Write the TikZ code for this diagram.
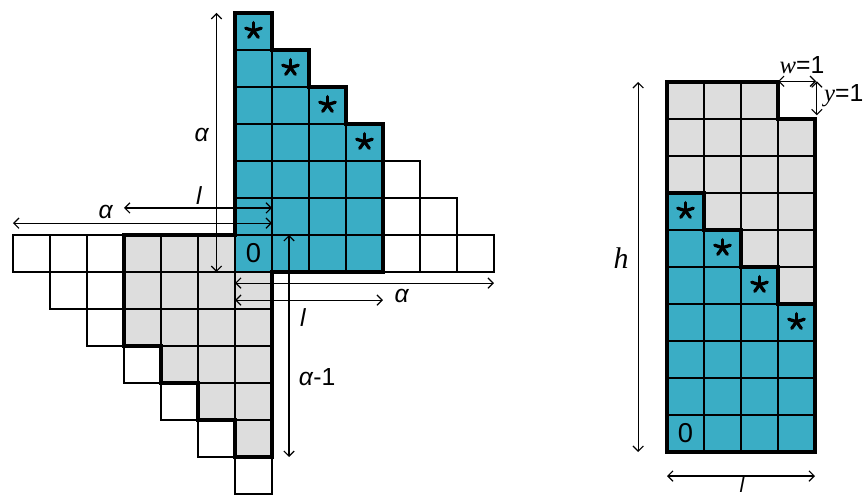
\documentclass[tikz,border=0pt]{standalone}
\usepackage{fontspec}
\setmainfont{Liberation Sans}
\newfontfamily\tnr{Liberation Serif}
\usetikzlibrary{arrows.meta}
\definecolor{cellblue}{RGB}{58,173,197}
\definecolor{cellgray}{RGB}{221,221,221}
\tikzset{
  gridline/.style={line width=1.4pt, draw=black},
  outline/.style={line width=3.8pt, line join=miter, draw=black},
  dimline/.style={line width=0.9pt, {Straight Barb[length=4pt,width=8pt,line width=0.9pt]}-{Straight Barb[length=4pt,width=8pt,line width=0.9pt]}},
  lab/.style={font=\fontsize{19}{21}\selectfont, inner sep=0pt},
  astk/.pic={\foreach \a in {18,90,162,234,306} \draw[line width=2.5pt, line cap=round] (0,0) -- (\a:0.22);}
}
\begin{document}
\begin{tikzpicture}
\useasboundingbox (-6.351,-6.081) rectangle (17.108,7.351);
% ---------------- left figure ----------------
\fill[cellblue] (0,0) -- (4,0) -- (4,4) -- (3,4) -- (3,5) -- (2,5) -- (2,6) -- (1,6) -- (1,7) -- (0,7) -- cycle;
\fill[cellgray] (-3,1) -- (0,1) -- (0,0) -- (1,0) -- (1,-5) -- (0,-5) -- (0,-4) -- (-1,-4) -- (-1,-3) -- (-2,-3) -- (-2,-2) -- (-3,-2) -- cycle;
\foreach \i in {0,...,6} {
  \pgfmathtruncatemacro\tp{6-\i}
  \foreach \j in {0,...,\tp} \draw[gridline] (\i,\j) rectangle ++(1,1);
}
\foreach \i in {-6,...,-1} {
  \pgfmathtruncatemacro\bt{-6-\i}
  \foreach \j in {\bt,...,0} \draw[gridline] (\i,\j) rectangle ++(1,1);
}
\foreach \j in {-6,...,-1} \draw[gridline] (0,\j) rectangle ++(1,1);
\draw[outline] (1,0) -- (4,0) -- (4,4) -- (3,4) -- (3,5) -- (2,5) -- (2,6) -- (1,6) -- (1,7) -- (0,7) -- (0,1) -- (-3,1) -- (-3,-2) -- (-2,-2) -- (-2,-3) -- (-1,-3) -- (-1,-4) -- (0,-4) -- (0,-5) -- (1,-5) -- cycle;
\foreach \i/\j in {0/6,1/5,2/4,3/3} \pic at (\i+0.5,\j+0.52) {astk};
\node[lab, font=\fontsize{21}{23}\selectfont] (zeroL) at (0.5,0.5) {0};
% dimension lines
\coordinate (av1) at (-0.5,0); \coordinate (av2) at (-0.5,7);
\draw[dimline] (av1) -- (av2);
\node[lab] (aV) at (-0.89,3.70) {\textit{α}};
\coordinate (lu1) at (-3,1.73); \coordinate (lu2) at (1,1.73);
\draw[dimline] (lu1) -- (lu2);
\node[lab] (lU) at (-0.97,2.07) {\textit{l}};
\coordinate (au1) at (-6,1.32); \coordinate (au2) at (1,1.32);
\draw[dimline] (au1) -- (au2);
\node[lab] (aU) at (-3.49,1.62) {\textit{α}};
\coordinate (am1) at (1.46,1); \coordinate (am2) at (1.46,-5);
\draw[dimline] (am1) -- (am2);
\node[lab] (aM) at (2.22,-2.84) {\textit{α}-1};
\coordinate (ad1) at (0,-0.3); \coordinate (ad2) at (7,-0.3);
\draw[dimline] (ad1) -- (ad2);
\node[lab] (aD) at (4.51,-0.64) {\textit{α}};
\coordinate (ld1) at (0,-0.76); \coordinate (ld2) at (4,-0.76);
\draw[dimline] (ld1) -- (ld2);
\node[lab] (lD) at (1.84,-1.24) {\textit{l}};
% ---------------- right figure ----------------
\begin{scope}[shift={(11.676,-4.865)}]
\fill[cellgray] (0,0) rectangle (4,9);
\fill[cellgray] (0,9) rectangle (3,10);
\fill[cellblue] (0,0) -- (4,0) -- (4,4) -- (3,4) -- (3,5) -- (2,5) -- (2,6) -- (1,6) -- (1,7) -- (0,7) -- cycle;
\foreach \i in {0,...,3} \foreach \j in {0,...,8} \draw[gridline] (\i,\j) rectangle ++(1,1);
\foreach \i in {0,...,2} \draw[gridline] (\i,9) rectangle ++(1,1);
\draw[outline] (0,7) -- (1,7) -- (1,6) -- (2,6) -- (2,5) -- (3,5) -- (3,4) -- (4,4);
\draw[outline] (0,0) -- (4,0) -- (4,9) -- (3,9) -- (3,10) -- (0,10) -- cycle;
\foreach \i/\j in {0/6,1/5,2/4,3/3} \pic at (\i+0.5,\j+0.52) {astk};
\node[lab, font=\fontsize{21}{23}\selectfont] (zeroR) at (0.5,0.5) {0};
\coordinate (h1) at (-0.78,0); \coordinate (h2) at (-0.78,10);
\draw[dimline] (h1) -- (h2);
\node[lab, font=\fontsize{23}{25}\selectfont] (hL) at (-1.24,5.24) {\tnr\itshape h};
\coordinate (lb1) at (0,-0.65); \coordinate (lb2) at (4,-0.65);
\draw[dimline] (lb1) -- (lb2);
\node[lab, anchor=base, font=\fontsize{16}{18}\selectfont] (lB) at (2.03,-1.09) {\textit{l}};
\coordinate (w1) at (3,10.02); \coordinate (w2) at (4.03,10.02);
\draw[dimline] (w1) -- (w2);
\node[lab] (wL) at (3.65,10.46) {{\tnr\itshape w}=1};
\coordinate (y1) at (4.05,10.02); \coordinate (y2) at (4.05,9.1);
\draw[dimline] (y1) -- (y2);
\node[lab, anchor=west] (yL) at (4.24,9.62) {{\tnr\itshape y}=1};
\end{scope}
\end{tikzpicture}
\end{document}
